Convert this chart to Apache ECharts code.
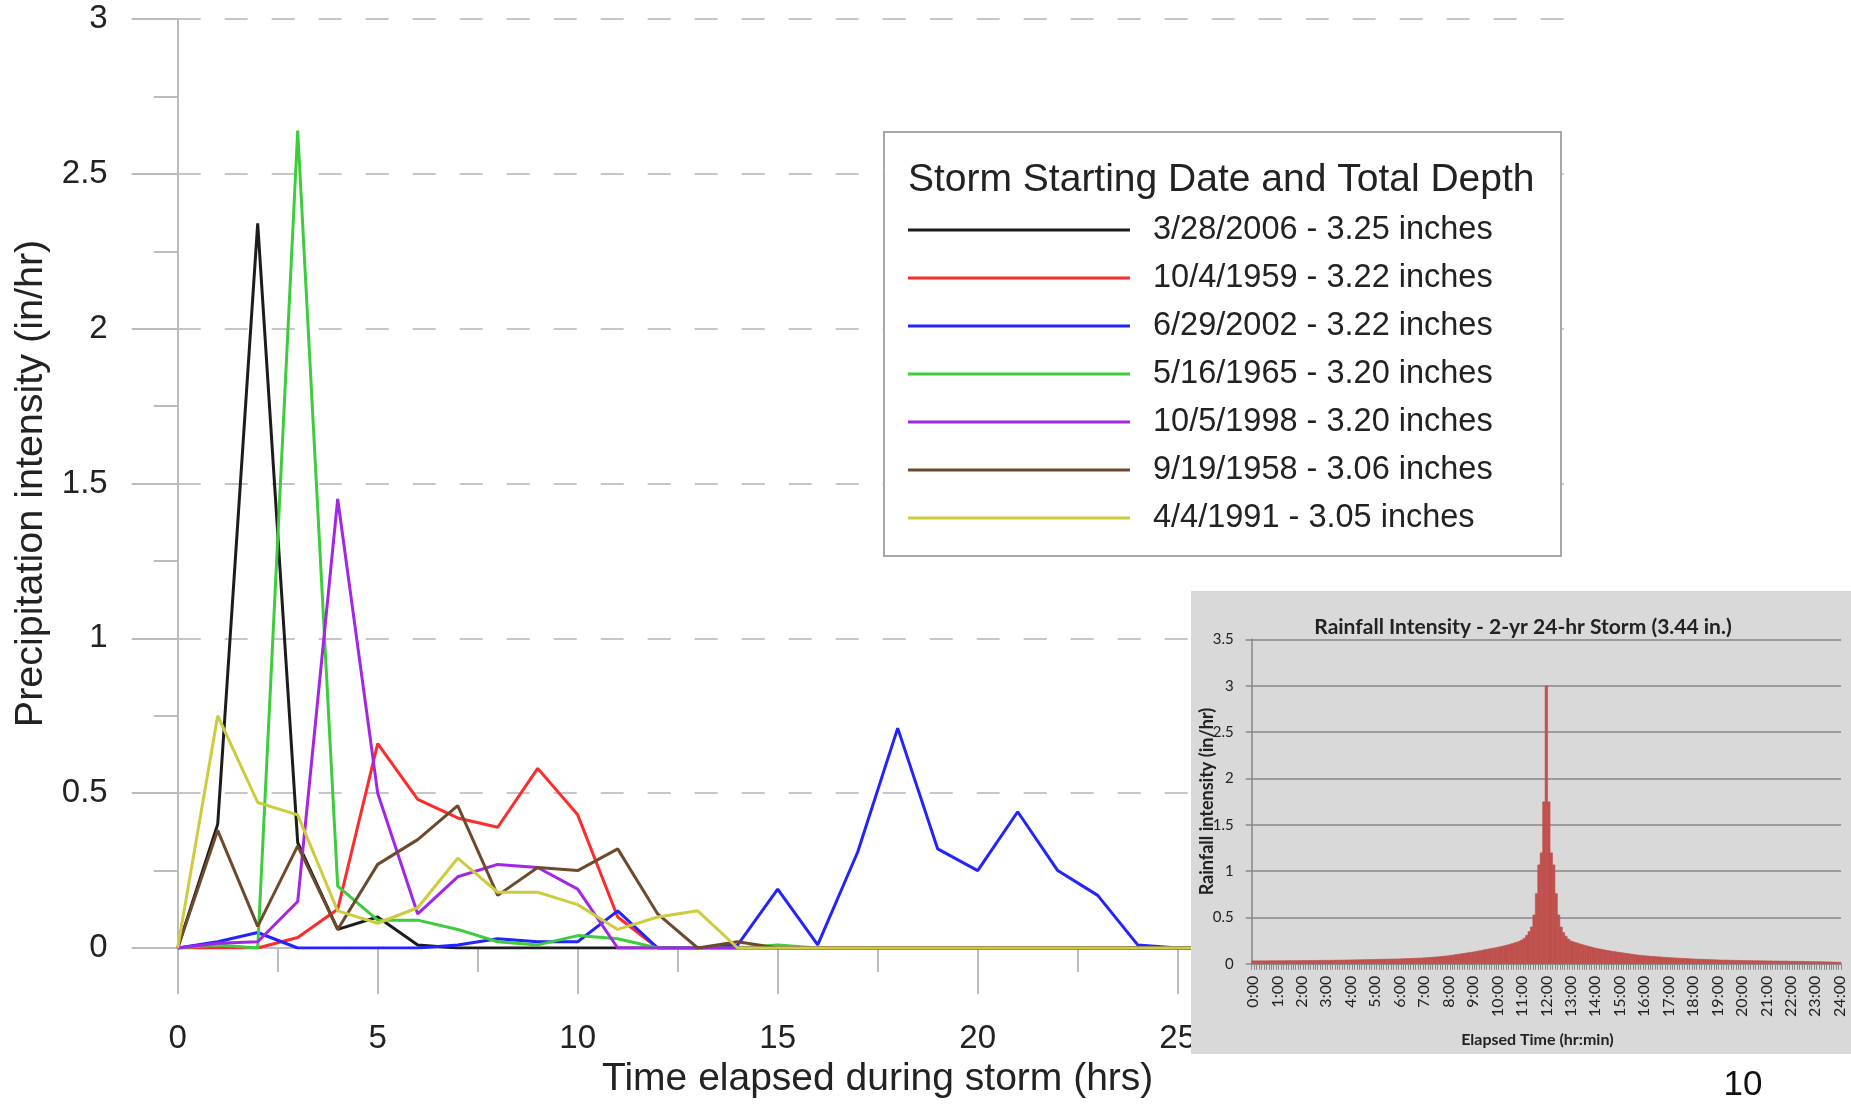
<!DOCTYPE html>
<html>
<head>
<meta charset="utf-8">
<script src="https://cdn.jsdelivr.net/npm/echarts@6/dist/echarts.min.js"></script>
<style>
html,body{margin:0;padding:0;background:#fff;}
#c{width:1851px;height:1104px;}
</style>
</head>
<body>
<div id="c"></div>
<script>
// ---------- main chart data (hours elapsed 0..26) ----------
const hours = [0,1,2,3,4,5,6,7,8,9,10,11,12,13,14,15,16,17,18,19,20,21,22,23,24,25,26];
const storm2006 = [0,0.40,2.34,0.34,0.06,0.10,0.01,0,0,0,0,0,0,0,0,0,0,0,0,0,0,0,0,0,0,0,0];
const storm1959 = [0,0,0,0.034,0.125,0.66,0.48,0.42,0.39,0.58,0.43,0.10,0,0,0,0,0,0,0,0,0,0,0,0,0,0,0];
const storm2002 = [0,0.02,0.05,0,0,0,0,0.01,0.03,0.02,0.02,0.12,0,0,0.01,0.19,0.01,0.31,0.71,0.32,0.25,0.44,0.25,0.17,0.01,0,0];
const storm1965 = [0,0.01,0,2.64,0.20,0.09,0.09,0.06,0.02,0.01,0.04,0.03,0,0,0,0.01,0,0,0,0,0,0,0,0,0,0,0];
const storm1998 = [0,0.015,0.02,0.15,1.45,0.50,0.11,0.23,0.27,0.26,0.19,0,0,0,0,0,0,0,0,0,0,0,0,0,0,0,0];
const storm1958 = [0,0.38,0.07,0.33,0.06,0.27,0.35,0.46,0.17,0.26,0.25,0.32,0.11,0,0.02,0,0,0,0,0,0,0,0,0,0,0,0];
const storm1991 = [0,0.75,0.47,0.43,0.12,0.08,0.13,0.29,0.18,0.18,0.14,0.06,0.10,0.12,0,0,0,0,0,0,0,0,0,0,0,0,0];
const seriesNames = [
  '3/28/2006 - 3.25 inches','10/4/1959 - 3.22 inches','6/29/2002 - 3.22 inches',
  '5/16/1965 - 3.20 inches','10/5/1998 - 3.20 inches','9/19/1958 - 3.06 inches','4/4/1991 - 3.05 inches'
];
const seriesColors = ['#1c1c1c','#ff2b2b','#2323ff','#3ccc3c','#a326e6','#6e4a2c','#cccc3f'];

// ---------- inset data: 2-yr 24-hr storm, 6-minute steps (in/hr) ----------
const hourLabels = ['0:00','1:00','2:00','3:00','4:00','5:00','6:00','7:00','8:00','9:00','10:00','11:00','12:00',
  '13:00','14:00','15:00','16:00','17:00','18:00','19:00','20:00','21:00','22:00','23:00','24:00'];
const minuteSteps = ['00','06','12','18','24','30','36','42','48','54'];
const intensity = [
  0.035,0.035,0.035,0.035,0.035,0.035,0.035,0.036,0.036,0.036,
  0.036,0.036,0.036,0.036,0.037,0.037,0.037,0.037,0.037,0.038,
  0.038,0.038,0.038,0.038,0.039,0.039,0.039,0.040,0.040,0.040,
  0.041,0.041,0.041,0.042,0.042,0.042,0.043,0.043,0.044,0.044,
  0.045,0.045,0.046,0.046,0.047,0.047,0.048,0.048,0.049,0.049,
  0.050,0.051,0.051,0.052,0.052,0.053,0.054,0.054,0.055,0.055,
  0.056,0.057,0.058,0.059,0.060,0.061,0.062,0.063,0.064,0.065,
  0.067,0.069,0.071,0.073,0.075,0.077,0.079,0.082,0.085,0.087,
  0.090,0.094,0.098,0.102,0.106,0.110,0.114,0.118,0.122,0.126,
  0.130,0.135,0.140,0.145,0.150,0.155,0.160,0.165,0.170,0.175,
  0.180,0.186,0.192,0.198,0.205,0.212,0.220,0.228,0.237,0.246,
  0.26,0.28,0.31,0.35,0.40,0.53,0.76,1.07,1.20,1.75,
  3.00,1.75,1.20,1.07,0.76,0.53,0.40,0.34,0.30,0.27,
  0.250,0.240,0.232,0.224,0.216,0.208,0.200,0.193,0.186,0.179,
  0.172,0.167,0.162,0.157,0.152,0.147,0.142,0.138,0.134,0.130,
  0.126,0.122,0.118,0.114,0.110,0.106,0.102,0.099,0.096,0.093,
  0.090,0.088,0.086,0.084,0.082,0.080,0.078,0.076,0.074,0.072,
  0.070,0.068,0.067,0.065,0.064,0.062,0.061,0.060,0.058,0.057,
  0.055,0.054,0.053,0.052,0.051,0.050,0.049,0.048,0.047,0.046,
  0.045,0.044,0.044,0.043,0.043,0.042,0.041,0.041,0.040,0.039,
  0.038,0.038,0.037,0.037,0.037,0.036,0.036,0.036,0.035,0.035,
  0.034,0.034,0.034,0.033,0.033,0.033,0.032,0.032,0.032,0.031,
  0.030,0.030,0.030,0.029,0.029,0.029,0.028,0.028,0.027,0.027,
  0.026,0.026,0.025,0.025,0.024,0.024,0.023,0.022,0.022,0.021,
  0.020
];

// categories for the inset (one per 6-minute step, plus 24:00)
const insetCategories = [];
for (let h = 0; h < 24; h++) {
  for (const m of minuteSteps) insetCategories.push(h + ':' + m);
}
insetCategories.push('24:00');

const mainSeriesData = [storm2006, storm1959, storm2002, storm1965, storm1998, storm1958, storm1991];

const AX = '#bcbcbc';
const MAINFONT = 'Liberation Sans';
const INSETFONT = 'Lato';
const TXT = '#222';
const GRID_INSET = '#868686';
const BAR = '#c0504d';

const chart = echarts.init(document.getElementById('c'), null, {renderer: 'canvas'});

const series = mainSeriesData.map((arr, i) => ({
  name: seriesNames[i],
  type: 'line',
  xAxisIndex: 0, yAxisIndex: 0,
  data: hours.map((h, k) => [h, arr[k]]),
  showSymbol: false,
  symbol: 'none',
  color: seriesColors[i],
  lineStyle: {width: 3, color: seriesColors[i]},
  z: 2 + i * 0.01,
  silent: true
}));

series.push({
  name: 'Rainfall Intensity',
  type: 'bar',
  xAxisIndex: 1, yAxisIndex: 1,
  data: intensity,
  barWidth: 3.1,
  itemStyle: {color: BAR, borderColor: BAR, borderWidth: 0.6},
  z: 60,
  silent: true
});

const option = {
  animation: false,
  grid: [
    {left: 177.7, right: 273.3, top: 19, bottom: 151.7},
    {left: 1251.7, right: 10, top: 639.3, bottom: 140.2}
  ],
  xAxis: [
    {
      type: 'value', gridIndex: 0, min: 0, max: 35, interval: 5,
      name: 'Time elapsed during storm (hrs)', nameLocation: 'middle', nameGap: 112,
      nameTextStyle: {fontSize: 39, fontFamily: MAINFONT, color: TXT},
      axisLine: {show: true, onZero: true, lineStyle: {color: AX, width: 2}},
      axisTick: {show: true, length: 46, lineStyle: {color: AX, width: 2}},
      minorTick: {show: true, splitNumber: 2, length: 24, lineStyle: {color: AX, width: 2}},
      axisLabel: {fontSize: 33, fontFamily: MAINFONT, color: TXT, margin: 74},
      splitLine: {show: false}
    },
    {
      type: 'category', gridIndex: 1, data: insetCategories, boundaryGap: true, z: 60,
      name: 'Elapsed Time (hr:min)', nameLocation: 'middle', nameGap: 68, nameMoveOverlap: false,
      nameTextStyle: {fontSize: 16, fontWeight: 'bold', fontFamily: INSETFONT, color: TXT, padding: [0, 18, 0, 0]},
      axisLine: {show: true, lineStyle: {color: GRID_INSET, width: 1.5}},
      axisTick: {show: true, interval: 0, length: 6, lineStyle: {color: GRID_INSET, width: 1}},
      axisLabel: {
        interval: (idx) => idx % 10 === 0,
        formatter: (v, idx) => (idx % 10 === 0 ? hourLabels[idx / 10] : ''),
        rotate: 90, fontSize: 16, fontFamily: INSETFONT, color: TXT, margin: 12
      },
      splitLine: {show: false}
    }
  ],
  yAxis: [
    {
      type: 'value', gridIndex: 0, min: 0, max: 3, interval: 0.5,
      name: 'Precipitation intensity (in/hr)', nameLocation: 'middle', nameGap: 123,
      nameTextStyle: {fontSize: 39.5, fontFamily: MAINFONT, color: TXT},
      axisLine: {show: true, lineStyle: {color: AX, width: 2}},
      axisTick: {show: true, length: 46, lineStyle: {color: AX, width: 2}},
      minorTick: {show: true, splitNumber: 2, length: 24, lineStyle: {color: AX, width: 2}},
      axisLabel: {fontSize: 33, fontFamily: MAINFONT, color: TXT, margin: 70},
      splitLine: {show: true, lineStyle: {color: '#c6c6c6', width: 2, type: [23, 24]}}
    },
    {
      type: 'value', gridIndex: 1, min: 0, max: 3.5, interval: 0.5, z: 60,
      name: 'Rainfall intensity (in/hr)', nameLocation: 'middle', nameGap: 36, nameMoveOverlap: false,
      nameTextStyle: {fontSize: 18, fontWeight: 'bold', fontFamily: INSETFONT, color: TXT},
      axisLine: {show: true, lineStyle: {color: GRID_INSET, width: 1.5}},
      axisTick: {show: true, length: 6, lineStyle: {color: GRID_INSET, width: 1.5}},
      axisLabel: {fontSize: 15, fontFamily: INSETFONT, color: TXT, margin: 18},
      splitLine: {show: true, lineStyle: {color: GRID_INSET, width: 1.5}}
    }
  ],
  legend: {
    data: seriesNames,
    orient: 'vertical',
    left: 908, top: 213.5,
    padding: 0,
    itemWidth: 222, itemHeight: 3,
    itemGap: 15,
    icon: 'rect',
    z: 30,
    selectedMode: false,
    textStyle: {fontSize: 32.5, fontFamily: MAINFONT, color: TXT, lineHeight: 32, padding: [0, 0, 0, 18]}
  },
  graphic: [
    {type: 'rect', z: 20, shape: {x: 884, y: 132, width: 677, height: 424},
     style: {fill: '#fff', stroke: '#a8a8a8', lineWidth: 2}},
    {type: 'text', z: 31, x: 908, y: 180,
     style: {text: 'Storm Starting Date and Total Depth', fontSize: 39, fontFamily: MAINFONT, fill: TXT,
             textVerticalAlign: 'middle', verticalAlign: 'middle'}},
    {type: 'rect', z: 50, shape: {x: 1191, y: 591, width: 660, height: 463},
     style: {fill: '#d9d9d9'}},
    {type: 'text', z: 61, x: 1523, y: 627,
     style: {text: 'Rainfall Intensity - 2-yr 24-hr Storm (3.44 in.)', fontSize: 21, fontWeight: 'bold',
             fontFamily: INSETFONT, fill: TXT, align: 'center', verticalAlign: 'middle',
             textAlign: 'center', textVerticalAlign: 'middle'}},
    {type: 'text', z: 5, x: 1743, y: 1085,
     style: {text: '10', fontSize: 35, fontFamily: MAINFONT, fill: '#111', align: 'center', verticalAlign: 'middle',
             textAlign: 'center', textVerticalAlign: 'middle'}}
  ],
  series: series
};

chart.setOption(option);
</script>
</body>
</html>
